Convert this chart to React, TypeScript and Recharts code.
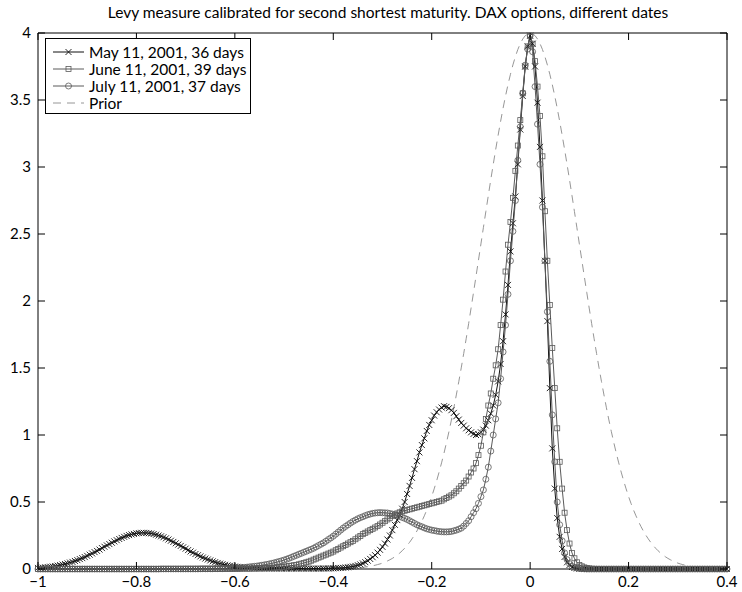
import React from 'react';
import { LineChart, Line, XAxis, YAxis } from 'recharts';

const FONT = 'Lato, "Open Sans", sans-serif';

// sample points of the densities: -1 .. 0.4, step 0.005
const X_GRID = Array.from({ length: 281 }, (_, i) => Math.round((-1 + i * 0.005) * 1000) / 1000);

const X_TICKS = [-1, -0.8, -0.6, -0.4, -0.2, 0, 0.2, 0.4];
const Y_TICKS = [0, 0.5, 1, 1.5, 2, 2.5, 3, 3.5, 4];

const TITLE = 'Levy measure calibrated for second shortest maturity. DAX options, different dates';
const SERIES_NAMES = ['May 11, 2001, 36 days', 'June 11, 2001, 39 days', 'July 11, 2001, 37 days', 'Prior'];

// May 11, 2001
const MAY = [
  0.008, 0.009, 0.010, 0.012, 0.014, 0.017, 0.019, 0.022, 0.025, 0.029, 0.033, 0.037, 0.042, 0.048, 0.053, 0.060, 0.066, 0.074, 0.081, 0.089,
  0.098, 0.107, 0.116, 0.126, 0.135, 0.145, 0.156, 0.166, 0.176, 0.186, 0.196, 0.206, 0.215, 0.224, 0.232, 0.240, 0.247, 0.253, 0.258, 0.262,
  0.266, 0.268, 0.270, 0.270, 0.269, 0.267, 0.265, 0.261, 0.256, 0.250, 0.244, 0.237, 0.229, 0.220, 0.211, 0.202, 0.192, 0.182, 0.172, 0.162,
  0.152, 0.141, 0.131, 0.122, 0.112, 0.103, 0.094, 0.086, 0.078, 0.071, 0.064, 0.057, 0.051, 0.045, 0.040, 0.036, 0.031, 0.027, 0.024, 0.021,
  0.018, 0.016, 0.013, 0.011, 0.010, 0.008, 0.007, 0.006, 0.005, 0.005, 0.004, 0.004, 0.004, 0.003, 0.003, 0.003, 0.003, 0.003, 0.003, 0.003,
  0.003, 0.003, 0.003, 0.003, 0.003, 0.003, 0.003, 0.003, 0.003, 0.003, 0.003, 0.003, 0.003, 0.003, 0.003, 0.003, 0.004, 0.004, 0.004, 0.005,
  0.005, 0.006, 0.007, 0.008, 0.009, 0.011, 0.013, 0.016, 0.019, 0.023, 0.028, 0.034, 0.042, 0.051, 0.062, 0.075, 0.088, 0.103, 0.122, 0.143,
  0.165, 0.19, 0.22, 0.25, 0.29, 0.33, 0.365, 0.405, 0.45, 0.50, 0.56, 0.62, 0.68, 0.745, 0.805, 0.87, 0.925, 0.975, 1.03, 1.075,
  1.11, 1.145, 1.17, 1.19, 1.205, 1.215, 1.21, 1.20, 1.185, 1.165, 1.14, 1.115, 1.09, 1.07, 1.05, 1.035, 1.02, 1.008, 1.00, 1.005,
  1.02, 1.04, 1.07, 1.11, 1.16, 1.22, 1.30, 1.40, 1.53, 1.70, 1.90, 2.12, 2.37, 2.58, 2.78, 3.02, 3.28, 3.53, 3.75, 3.90,
  3.98, 3.92, 3.75, 3.48, 3.15, 2.75, 2.30, 1.85, 1.35, 0.90, 0.60, 0.38, 0.24, 0.15, 0.09, 0.05, 0.03, 0.015, 0.008, 0.004,
  0.002, 0.001, 0.001, 0.001, 0, 0, 0, 0, 0, 0, 0, 0, 0, 0, 0, 0, 0, 0, 0, 0,
  0, 0, 0, 0, 0, 0, 0, 0, 0, 0, 0, 0, 0, 0, 0, 0, 0, 0, 0, 0,
  0, 0, 0, 0, 0, 0, 0, 0, 0, 0, 0, 0, 0, 0, 0, 0, 0, 0, 0, 0,
  0,
];

// June 11, 2001
const JUNE = [
  0, 0, 0, 0, 0, 0, 0, 0, 0, 0, 0, 0, 0, 0, 0, 0, 0, 0, 0, 0,
  0, 0, 0, 0, 0, 0, 0, 0, 0, 0, 0, 0, 0, 0, 0, 0, 0, 0, 0, 0,
  0, 0, 0, 0, 0, 0, 0, 0, 0, 0, 0, 0, 0, 0, 0, 0, 0, 0, 0, 0,
  0.001, 0.001, 0.001, 0.001, 0.001, 0.001, 0.001, 0.001, 0.001, 0.001, 0.001, 0.001, 0.001, 0.001, 0.001, 0.002, 0.002, 0.002, 0.002, 0.002,
  0.002, 0.002, 0.002, 0.003, 0.003, 0.003, 0.003, 0.004, 0.004, 0.005, 0.005, 0.006, 0.006, 0.007, 0.008, 0.009, 0.010, 0.012, 0.013, 0.015,
  0.017, 0.019, 0.022, 0.025, 0.028, 0.031, 0.035, 0.040, 0.045, 0.050, 0.055, 0.062, 0.070, 0.077, 0.085, 0.092, 0.100, 0.107, 0.115, 0.122,
  0.130, 0.140, 0.150, 0.160, 0.170, 0.180, 0.190, 0.200, 0.210, 0.222, 0.235, 0.247, 0.260, 0.270, 0.280, 0.290, 0.300, 0.310, 0.320, 0.332,
  0.345, 0.357, 0.370, 0.382, 0.395, 0.405, 0.415, 0.423, 0.430, 0.435, 0.440, 0.445, 0.450, 0.455, 0.460, 0.465, 0.470, 0.475, 0.480, 0.485,
  0.490, 0.495, 0.500, 0.505, 0.510, 0.520, 0.530, 0.540, 0.550, 0.565, 0.580, 0.600, 0.620, 0.640, 0.660, 0.690, 0.720, 0.750, 0.790, 0.850,
  0.92, 1.02, 1.12, 1.22, 1.31, 1.42, 1.52, 1.64, 1.82, 2.01, 2.22, 2.42, 2.59, 2.77, 2.97, 3.16, 3.35, 3.55, 3.75, 3.90,
  3.98, 3.92, 3.79, 3.60, 3.38, 3.08, 2.67, 2.30, 1.97, 1.65, 1.35, 1.05, 0.80, 0.60, 0.42, 0.29, 0.19, 0.12, 0.08, 0.05,
  0.03, 0.02, 0.012, 0.007, 0.004, 0.002, 0.001, 0.001, 0, 0, 0, 0, 0, 0, 0, 0, 0, 0, 0, 0,
  0, 0, 0, 0, 0, 0, 0, 0, 0, 0, 0, 0, 0, 0, 0, 0, 0, 0, 0, 0,
  0, 0, 0, 0, 0, 0, 0, 0, 0, 0, 0, 0, 0, 0, 0, 0, 0, 0, 0, 0,
  0,
];

// July 11, 2001
const JULY = [
  0, 0, 0, 0, 0, 0, 0, 0, 0, 0, 0, 0, 0, 0, 0, 0, 0, 0, 0, 0,
  0, 0, 0, 0, 0, 0, 0, 0, 0, 0, 0, 0, 0, 0, 0, 0, 0, 0, 0, 0,
  0, 0, 0, 0, 0, 0, 0, 0, 0, 0, 0.001, 0.001, 0.001, 0.001, 0.001, 0.001, 0.001, 0.001, 0.001, 0.001,
  0.001, 0.001, 0.001, 0.001, 0.001, 0.001, 0.002, 0.002, 0.002, 0.002, 0.002, 0.002, 0.003, 0.003, 0.003, 0.003, 0.004, 0.004, 0.005, 0.006,
  0.007, 0.008, 0.009, 0.010, 0.012, 0.014, 0.016, 0.018, 0.020, 0.022, 0.025, 0.028, 0.031, 0.034, 0.038, 0.042, 0.046, 0.051, 0.056, 0.061,
  0.067, 0.073, 0.080, 0.087, 0.095, 0.102, 0.110, 0.117, 0.125, 0.132, 0.140, 0.147, 0.155, 0.165, 0.175, 0.185, 0.195, 0.207, 0.220, 0.232,
  0.245, 0.260, 0.275, 0.290, 0.305, 0.318, 0.330, 0.343, 0.355, 0.365, 0.375, 0.383, 0.390, 0.398, 0.405, 0.410, 0.415, 0.418, 0.420, 0.421,
  0.420, 0.419, 0.418, 0.414, 0.410, 0.405, 0.400, 0.393, 0.385, 0.378, 0.370, 0.360, 0.350, 0.340, 0.330, 0.322, 0.315, 0.307, 0.300, 0.295,
  0.290, 0.287, 0.283, 0.280, 0.278, 0.277, 0.277, 0.278, 0.280, 0.285, 0.290, 0.297, 0.305, 0.320, 0.340, 0.360, 0.390, 0.420, 0.450, 0.490,
  0.54, 0.59, 0.67, 0.76, 0.88, 1.00, 1.12, 1.24, 1.42, 1.62, 1.82, 2.05, 2.30, 2.52, 2.75, 3.05, 3.30, 3.55, 3.76, 3.88,
  3.98, 3.86, 3.60, 3.32, 3.02, 2.70, 2.30, 1.92, 1.55, 1.15, 0.80, 0.50, 0.33, 0.21, 0.12, 0.07, 0.04, 0.02, 0.012, 0.007,
  0.004, 0.002, 0.001, 0, 0, 0, 0, 0, 0, 0, 0, 0, 0, 0, 0, 0, 0, 0, 0, 0,
  0, 0, 0, 0, 0, 0, 0, 0, 0, 0, 0, 0, 0, 0, 0, 0, 0, 0, 0, 0,
  0, 0, 0, 0, 0, 0, 0, 0, 0, 0, 0, 0, 0, 0, 0, 0, 0, 0, 0, 0,
  0,
];

// prior density
const PRIOR = [
  0, 0, 0, 0, 0, 0, 0, 0, 0, 0, 0, 0, 0, 0, 0, 0, 0, 0, 0, 0,
  0, 0, 0, 0, 0, 0, 0, 0, 0, 0, 0, 0, 0, 0, 0, 0, 0, 0, 0, 0,
  0, 0, 0, 0, 0, 0, 0, 0, 0, 0, 0, 0, 0, 0, 0, 0, 0, 0, 0, 0,
  0, 0, 0, 0, 0, 0, 0, 0, 0, 0, 0, 0, 0, 0, 0, 0, 0, 0, 0, 0,
  0, 0, 0, 0, 0, 0, 0, 0, 0, 0, 0, 0, 0, 0, 0, 0, 0, 0, 0, 0,
  0, 0, 0, 0, 0, 0, 0, 0, 0, 0, 0, 0, 0, 0, 0, 0, 0, 0, 0, 0,
  0.001, 0.001, 0.002, 0.002, 0.003, 0.003, 0.004, 0.005, 0.006, 0.007, 0.009, 0.010, 0.012, 0.015, 0.017, 0.020, 0.024, 0.028, 0.033, 0.038,
  0.044, 0.052, 0.060, 0.069, 0.079, 0.091, 0.104, 0.119, 0.136, 0.155, 0.176, 0.199, 0.225, 0.253, 0.284, 0.318, 0.356, 0.397, 0.441, 0.489,
  0.541, 0.598, 0.658, 0.723, 0.792, 0.865, 0.943, 1.025, 1.112, 1.203, 1.299, 1.398, 1.501, 1.608, 1.718, 1.831, 1.947, 2.065, 2.184, 2.305,
  2.426, 2.547, 2.668, 2.787, 2.905, 3.019, 3.131, 3.238, 3.341, 3.439, 3.530, 3.615, 3.692, 3.762, 3.824, 3.877, 3.921, 3.955, 3.980, 3.995,
  4.000, 3.995, 3.980, 3.955, 3.921, 3.877, 3.824, 3.762, 3.692, 3.615, 3.530, 3.439, 3.341, 3.238, 3.131, 3.019, 2.905, 2.787, 2.668, 2.547,
  2.426, 2.305, 2.184, 2.065, 1.947, 1.831, 1.718, 1.608, 1.501, 1.398, 1.299, 1.203, 1.112, 1.025, 0.943, 0.865, 0.792, 0.723, 0.658, 0.598,
  0.541, 0.489, 0.441, 0.397, 0.356, 0.318, 0.284, 0.253, 0.225, 0.199, 0.176, 0.155, 0.136, 0.119, 0.104, 0.091, 0.079, 0.069, 0.060, 0.052,
  0.044, 0.038, 0.033, 0.028, 0.024, 0.020, 0.017, 0.015, 0.012, 0.010, 0.009, 0.007, 0.006, 0.005, 0.004, 0.003, 0.003, 0.002, 0.002, 0.001,
  0.001,
];

const rows = X_GRID.map((x, i) => ({ x, may: MAY[i], june: JUNE[i], july: JULY[i], prior: PRIOR[i] }));

const GRAY = '#5a5a5a';
const TICK_LEN = 7;
const fmt = (v: number) => String(v).replace('-', '\u2212');

// markers
const Cross = ({ cx, cy, s = 3 }: { cx: number; cy: number; s?: number }) => (
  <path d={`M${cx - s},${cy - s}L${cx + s},${cy + s}M${cx - s},${cy + s}L${cx + s},${cy - s}`} stroke="#111" strokeWidth={0.9} fill="none" />
);
const Square = ({ cx, cy, s = 2.5 }: { cx: number; cy: number; s?: number }) => (
  <rect x={cx - s} y={cy - s} width={2 * s} height={2 * s} stroke={GRAY} strokeWidth={0.8} fill="none" />
);
const Ring = ({ cx, cy, r = 3 }: { cx: number; cy: number; r?: number }) => (
  <circle cx={cx} cy={cy} r={r} stroke={GRAY} strokeWidth={0.8} fill="none" />
);

const dotFor = (Mark: any) => (p: any) => {
  if (p.cx == null || p.cy == null) return <g key={`e-${p.index}`} />;
  return <g key={`m-${p.index}`}><Mark cx={p.cx} cy={p.cy} /></g>;
};

// inward ticks, MATLAB style
const BottomTick = (p: any) => (
  <g>
    <line x1={p.x} x2={p.x} y1={p.y} y2={p.y - TICK_LEN} stroke="#000" />
    <text x={p.x} y={p.y + 18} textAnchor="middle" fontSize={15} fontFamily={FONT} fill="#000">{fmt(p.payload.value)}</text>
  </g>
);
const TopTick = (p: any) => <line x1={p.x} x2={p.x} y1={p.y} y2={p.y + TICK_LEN} stroke="#000" />;
const LeftTick = (p: any) => (
  <g>
    <line x1={p.x} x2={p.x + TICK_LEN} y1={p.y} y2={p.y} stroke="#000" />
    <text x={p.x - 7} y={p.y + 5} textAnchor="end" fontSize={15} fontFamily={FONT} fill="#000">{fmt(p.payload.value)}</text>
  </g>
);
const RightTick = (p: any) => <line x1={p.x} x2={p.x - TICK_LEN} y1={p.y} y2={p.y} stroke="#000" />;

const LegendBox = () => {
  const marks = [Cross, Square, Ring, null];
  return (
    <div style={{ position: 'absolute', left: 45, top: 38, width: 206, height: 76, boxSizing: 'border-box', border: '1px solid #000', background: '#fff', fontFamily: FONT, fontSize: 15.5 }}>
      {SERIES_NAMES.map((name, i) => {
        const Mark = marks[i];
        const yc = 13 + 17 * i;
        return (
          <div key={name} style={{ position: 'absolute', left: 0, top: yc - 9, height: 18, width: 204 }}>
            <svg width={40} height={18} style={{ position: 'absolute', left: 0, top: 0 }}>
              {Mark ? (
                <>
                  <line x1={7} x2={38} y1={9} y2={9} stroke={i === 0 ? '#111' : GRAY} strokeWidth={1} />
                  <Mark cx={22.5} cy={9} />
                </>
              ) : (
                <line x1={7} x2={38} y1={9} y2={9} stroke="#8a8a8a" strokeWidth={0.9} strokeDasharray="8 6" />
              )}
            </svg>
            <span style={{ position: 'absolute', left: 43, top: 0, lineHeight: '18px', whiteSpace: 'nowrap' }}>{name}</span>
          </div>
        );
      })}
    </div>
  );
};

export default function App() {
  return (
    <div style={{ position: 'absolute', left: 0, top: 0, width: 742, height: 592, background: '#fff' }}>
      <div style={{ position: 'absolute', left: 38, top: 2, width: 700, textAlign: 'center', fontFamily: FONT, fontSize: 15.5, lineHeight: '20px', color: '#000', whiteSpace: 'nowrap' }}>
        {TITLE}
      </div>
      <LineChart width={742} height={592} data={rows} margin={{ top: 32, right: 14, bottom: 3, left: 6 }}>
        <XAxis xAxisId="b" dataKey="x" type="number" domain={[-1, 0.4]} ticks={X_TICKS} interval={0} height={20}
          tickSize={0} tickMargin={0} tickLine={false} axisLine={{ stroke: '#000' }} tick={<BottomTick />} />
        <XAxis xAxisId="t" orientation="top" dataKey="x" type="number" domain={[-1, 0.4]} ticks={X_TICKS} interval={0} height={1}
          tickSize={0} tickMargin={0} tickLine={false} axisLine={{ stroke: '#000' }} tick={<TopTick />} />
        <YAxis yAxisId="l" type="number" domain={[0, 4]} ticks={Y_TICKS} interval={0} width={32}
          tickSize={0} tickMargin={0} tickLine={false} axisLine={{ stroke: '#000' }} tick={<LeftTick />} />
        <YAxis yAxisId="r" orientation="right" type="number" domain={[0, 4]} ticks={Y_TICKS} interval={0} width={1}
          tickSize={0} tickMargin={0} tickLine={false} axisLine={{ stroke: '#000' }} tick={<RightTick />} />
        <Line xAxisId="b" yAxisId="l" dataKey="may" type="linear" stroke="#111" strokeWidth={1} dot={dotFor(Cross)} activeDot={false} isAnimationActive={false} />
        <Line xAxisId="b" yAxisId="l" dataKey="june" type="linear" stroke={GRAY} strokeWidth={1} dot={dotFor(Square)} activeDot={false} isAnimationActive={false} />
        <Line xAxisId="b" yAxisId="l" dataKey="july" type="linear" stroke={GRAY} strokeWidth={1} dot={dotFor(Ring)} activeDot={false} isAnimationActive={false} />
        <Line xAxisId="t" yAxisId="r" dataKey="prior" type="linear" stroke="#8a8a8a" strokeWidth={0.9} strokeDasharray="8 6" dot={false} activeDot={false} isAnimationActive={false} />
      </LineChart>
      <LegendBox />
    </div>
  );
}
